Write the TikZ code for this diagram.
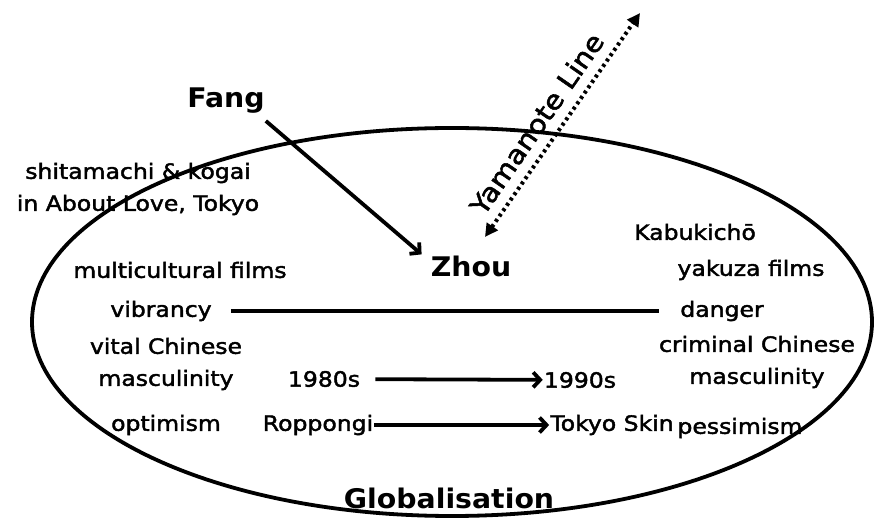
\documentclass[tikz,border=0pt]{standalone}
\usepackage{fontspec}
\setmainfont[FakeBold=2, FakeStretch=1.12]{DejaVu Sans}
\newfontfamily\heavyfont[FakeStretch=1.05]{DejaVu Sans Bold}
\usetikzlibrary{arrows.meta}
\begin{document}
\begin{tikzpicture}[x=1pt,y=-1pt]
        \tikzstyle{every node}=[font=\fontsize{21}{32}\selectfont, text=black, inner sep=1pt]
        \tikzstyle{big}=[font=\fontsize{27}{30}\heavyfont]
        \tikzstyle{link}=[line width=3.8pt]
        \tikzstyle{arr}=[link, -{Straight Barb[length=7pt,width=15pt]}]
        \useasboundingbox (0,0) rectangle (875,518);

        \draw[link] (452,322) ellipse [x radius=420, y radius=194];

        \node[big] (fang) at (226,101) {Fang};
        \node[big] (zhou) at (471,266) {Zhou};
        \node[big] (glob) at (449,498) {Globalisation};
        \node[align=center] (shita) at (138,189) {shitamachi \& kogai\\in About Love, Tokyo};
        \node (kabu) at (695,232) {Kabukichō};
        \node (multi) at (180,270) {multicultural films};
        \node (yakuza) at (751,270) {yakuza films};
        \node (vib) at (161,311) {vibrancy};
        \node (danger) at (722,311) {danger};
        \node[align=center] (vital) at (166,364) {vital Chinese\\masculinity};
        \node[align=center] (crim) at (757,362) {criminal Chinese\\masculinity};
        \node (y80) at (324,379) {1980s};
        \node (y90) at (580,380) {1990s};
        \node (opt) at (166,425) {optimism};
        \node (ropp) at (318,425) {Roppongi};
        \node (skin) at (612,425) {Tokyo Skin};
        \node (pess) at (740,428) {pessimism};
        \coordinate (ylo) at (485,237);
        \coordinate (yhi) at (640,13);

        \draw[link, shorten <=18pt, shorten >=20pt] (vib) -- (danger);
        \draw[arr, shorten <=14pt] (y80) -- (y90);
        \draw[arr] (ropp) -- (skin);
        \draw[arr] ([yshift=-6pt]fang.south east) -- ([xshift=-8pt]zhou.north west);
        \draw[line width=4pt, dash pattern=on 3pt off 3.5pt, {Triangle[length=13pt,width=13pt]}-{Triangle[length=13pt,width=13pt]}] (ylo) -- node[pos=0.45, sloped, above=9pt, font=\fontsize{26}{28}\selectfont] {Yamanote Line} (yhi);
    \end{tikzpicture}
\end{document}
